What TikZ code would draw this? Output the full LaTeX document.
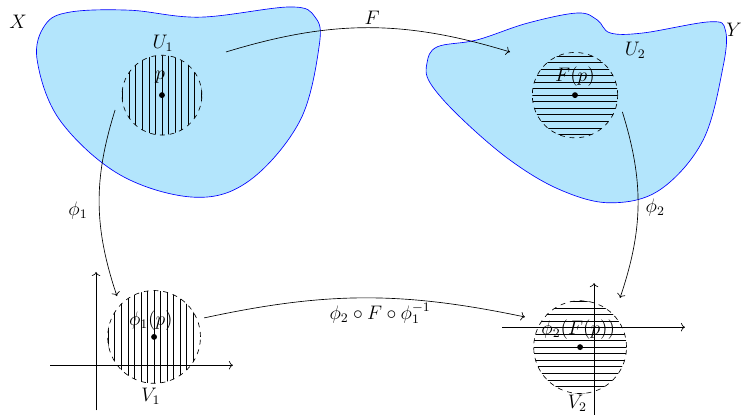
\documentclass[tikz,border=0pt]{standalone}
\usepackage{amsmath,amssymb}
\usepackage{tikz}
\usetikzlibrary{arrows.meta}
\definecolor{chartfill}{RGB}{179,229,252}
\definecolor{chartedge}{RGB}{0,0,255}

\tikzset{
  chartball/.style={dashed, thin},
  maparrow/.style={->},
  every node/.style={font=\large},
}

\begin{document}
\begin{tikzpicture}
  \useasboundingbox (0,0) rectangle (16.01,9.03);
  % manifolds X and Y
  \filldraw[chartedge, fill=chartfill] plot[smooth cycle, tension=0.6] coordinates {
    (0.80,7.74) (0.97,8.49) (1.51,8.77) (2.80,8.81) (4.31,8.66) (6.25,8.88)
    (6.79,8.66) (6.88,8.06) (6.47,6.44) (5.39,5.15) (4.20,4.78) (2.59,5.26) (1.29,6.44)};
  \filldraw[chartedge, fill=chartfill] plot[smooth cycle, tension=0.6] coordinates {
    (9.20,7.67) (9.42,8.02) (10.28,8.17) (11.36,8.53) (12.44,8.75) (12.87,8.60)
    (13.15,8.32) (13.86,8.32) (15.30,8.56) (15.63,8.38) (15.58,7.59) (15.15,6.01)
    (14.22,4.94) (13.15,4.66) (12.07,4.94) (10.99,5.58) (9.91,6.51) (9.27,7.24)};
  \node (X) at (0.39,8.56) {$X$};
  \node (Y) at (15.82,8.38) {$Y$};
  % open set U1 (vertical hatching)
  \begin{scope}[shift={(3.49,6.98)}]
    \clip (0,0) circle (0.86);
    \foreach \x in {-6,...,6} \draw (\x*0.141,-1) -- (\x*0.141,1);
  \end{scope}
  \draw[chartball] (3.49,6.98) circle (0.86);
  % open set U2 (horizontal hatching)
  \begin{scope}[shift={(12.39,6.98)}]
    \clip (0,0) circle (0.92);
    \foreach \y in {-7,...,7} \draw (-1,\y*0.141) -- (1,\y*0.141);
  \end{scope}
  \draw[chartball] (12.39,6.98) circle (0.92);
  \fill (3.49,6.98) coordinate (p) circle (1.8pt);
  \fill (12.39,6.98) coordinate (Fp) circle (1.8pt);
  \node (U1) at (3.51,8.10) {$U_1$};
  \node (plab) at (3.45,7.37) {$p$};
  \node (U2) at (13.69,7.95) {$U_2$};
  \node (Fplab) at (12.39,7.37) {$F(p)$};
  % chart V1
  \begin{scope}[shift={(3.32,1.77)}]
    \clip (0,0) circle (1.0);
    \foreach \x in {-7,...,7} \draw (\x*0.141,-1.1) -- (\x*0.141,1.1);
  \end{scope}
  \draw[chartball] (3.32,1.77) circle (1.0);
  \draw[->] (1.08,1.16) -- (5.02,1.16);
  \draw[->] (2.07,0.19) -- (2.07,3.17);
  \fill (3.32,1.77) coordinate (q1) circle (1.8pt);
  \node (V1) at (3.25,0.50) {$V_1$};
  \node (q1lab) at (3.25,2.13) {$\phi_1(p)$};
  % chart V2
  \begin{scope}[shift={(12.50,1.55)}]
    \clip (0,0) circle (1.0);
    \foreach \y in {-7,...,7} \draw (-1.1,\y*0.141) -- (1.1,\y*0.141);
  \end{scope}
  \draw[chartball] (12.50,1.55) circle (1.0);
  \draw[->] (10.82,1.98) -- (14.76,1.98);
  \draw[->] (12.80,0.09) -- (12.80,2.93);
  \fill (12.50,1.55) coordinate (q2) circle (1.8pt);
  \node (V2) at (12.44,0.34) {$V_2$};
  \node (q2lab) at (12.46,1.92) {$\phi_2(F(p))$};
  % maps
  \coordinate (Fa) at (4.87,7.91);
  \coordinate (Fb) at (10.99,7.91);
  \coordinate (pa) at (2.48,6.66);
  \coordinate (pb) at (2.52,2.65);
  \coordinate (qa) at (13.41,6.62);
  \coordinate (qb) at (13.36,2.61);
  \coordinate (ta) at (4.40,2.18);
  \coordinate (tb) at (11.31,2.20);
  \draw[maparrow] (Fa) to[bend left=17] (Fb);
  \draw[maparrow] (pa) to[bend right=18] (pb);
  \draw[maparrow] (qa) to[bend left=18] (qb);
  \draw[maparrow] (ta) to[bend left=12] (tb);
  \node (Flab) at (8.02,8.64) {$F$};
  \node (phi1lab) at (1.68,4.50) {$\phi_1$};
  \node (phi2lab) at (14.12,4.55) {$\phi_2$};
  \node (translab) at (8.19,2.28) {$\phi_2\circ F\circ\phi_1^{-1}$};
\end{tikzpicture}
\end{document}
